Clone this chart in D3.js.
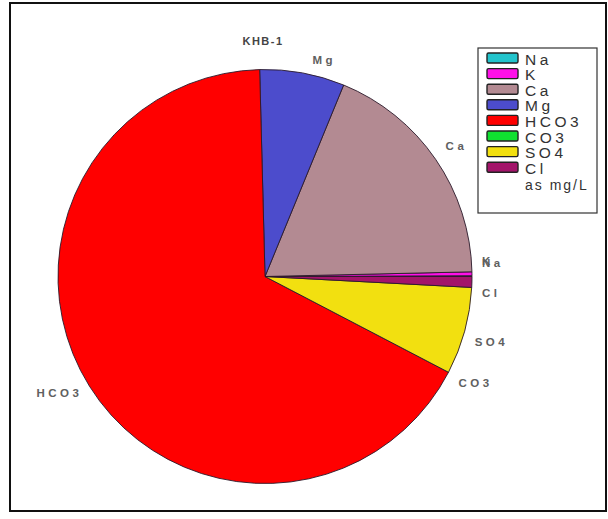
<!DOCTYPE html>
<html><head><meta charset="utf-8">
<script src="https://cdn.jsdelivr.net/npm/d3@7"></script>
<style>html,body{margin:0;padding:0;background:#fff;}svg{display:block;}</style>
</head><body>
<script>
const title = "KHB-1";
const ions = ["Na","K","Ca","Mg","HCO3","CO3","SO4","Cl"];
const values = [0.3, 1.5, 92, 33, 334, 0, 34, 4.2]; // mg/L
const colors = ["#22c4cc","#ff10e8","#b38a92","#4c4ccc","#ff0000","#10e030","#f2e010","#a3146a"];
const legendLabels = ["Na","K","Ca","Mg","HCO3","CO3","SO4","Cl"];
const unitLabel = "as mg/L";

const W = 608, H = 519;
const cx = 265, cy = 276.5, R = 207;

const svg = d3.select("body").append("svg").attr("width", W).attr("height", H);

// frame
svg.append("rect").attr("x",10).attr("y",3).attr("width",596).attr("height",508)
  .attr("fill","#fff").attr("stroke","#111").attr("stroke-width",2);

const data = ions.map((k,i)=>({ion:k, value:values[i], color:colors[i]}));
const pie = d3.pie().sort(null).value(d=>d.value)
  .startAngle(Math.PI/2).endAngle(Math.PI/2 - 2*Math.PI);
const arcs = pie(data);
const arc = d3.arc().innerRadius(0).outerRadius(R);

const g = svg.append("g").attr("transform",`translate(${cx},${cy})`);
g.selectAll("path").data(arcs.filter(a=>a.value>0)).join("path")
  .attr("d",arc).attr("fill",d=>d.data.color)
  .attr("stroke","#2a1a2a").attr("stroke-width",0.9).attr("stroke-linejoin","round");

// slice labels
const lab = svg.append("g").attr("font-family","Arial, 'Liberation Sans', sans-serif")
  .attr("font-size",11.5).attr("font-weight","bold").attr("fill","#606060")
  .attr("letter-spacing","3.5px");
arcs.forEach(a=>{
  const m = (a.startAngle + a.endAngle)/2;
  const px = cx + R*Math.sin(m), py = cy - R*Math.cos(m);
  const right = Math.sin(m) >= 0;
  const upper = Math.cos(m) > 0;
  const x = px + (right ? 10 : -7);
  const y = upper ? py - 9 : py + (right ? 15 : 11);
  lab.append("text").attr("x",x).attr("y",y)
    .attr("text-anchor", right ? "start" : "end").text(a.data.ion);
});

// title
svg.append("text").attr("x",263).attr("y",45).attr("text-anchor","middle")
  .attr("font-family","Arial, 'Liberation Sans', sans-serif").attr("font-size",11)
  .attr("font-weight","bold").attr("fill","#444").attr("letter-spacing","1.5px").text(title);

// legend
const lg = svg.append("g");
lg.append("rect").attr("x",478).attr("y",48).attr("width",119).attr("height",165)
  .attr("fill","#fff").attr("stroke","#333").attr("stroke-width",1.2);
const y0 = 53, pitch = 15.6;
legendLabels.forEach((t,i)=>{
  const y = y0 + i*pitch;
  lg.append("rect").attr("x",487).attr("y",y).attr("width",31).attr("height",10)
    .attr("rx",1.5).attr("fill",colors[i]).attr("stroke","#222").attr("stroke-width",1.4);
  lg.append("text").attr("x",525).attr("y",y+11.5)
    .attr("font-family","Arial, 'Liberation Sans', sans-serif").attr("font-size",15.5)
    .attr("fill","#333").attr("letter-spacing","3.5px").text(t);
});
lg.append("text").attr("x",525).attr("y",190)
  .attr("font-family","Arial, 'Liberation Sans', sans-serif").attr("font-size",14)
  .attr("fill","#333").attr("letter-spacing","2px").text(unitLabel);
</script>
</body></html>
